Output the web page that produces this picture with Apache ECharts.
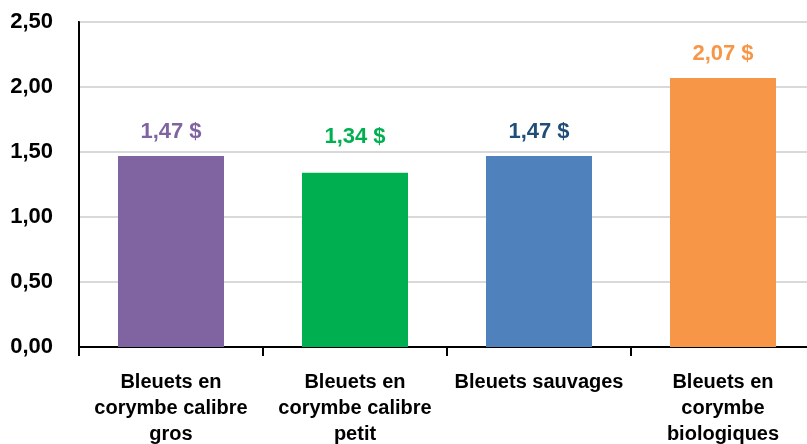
<!DOCTYPE html>
<html>
<head>
<meta charset="utf-8">
<script src="https://cdn.jsdelivr.net/npm/echarts@6/dist/echarts.min.js"></script>
<style>
  html, body { margin: 0; padding: 0; background: #fff; }
  #chart { width: 807px; height: 444px; }
</style>
</head>
<body>
<div id="chart"></div>
<script>
// prix moyen par type de bleuets
const categories = [
  'Bleuets en\ncorymbe calibre\ngros',
  'Bleuets en\ncorymbe calibre\npetit',
  'Bleuets sauvages',
  'Bleuets en\ncorymbe\nbiologiques'
];
const values = [1.47, 1.34, 1.47, 2.07];
const yTicks = [0, 0.5, 1, 1.5, 2, 2.5];

// couleurs barre / étiquette, décalage étiquette
const barStyles = [
  { bar: '#8064A2', label: '#8064A2', dist: 13 },
  { bar: '#00B050', label: '#00B050', dist: 25 },
  { bar: '#4F81BD', label: '#1F4E79', dist: 13 },
  { bar: '#F79646', label: '#F79646', dist: 13 }
];

const FONT = '"Liberation Sans", Arial, sans-serif';
const fmt = v => v.toFixed(2).replace('.', ',');

const chart = echarts.init(document.getElementById('chart'));
chart.setOption({
  backgroundColor: '#fff',
  animation: false,
  grid: {
    left: 79, width: 736, top: 22, height: 325,
    outerBoundsMode: 'none', containLabel: false,
    show: true, borderColor: '#000', borderWidth: 2
  },
  xAxis: {
    type: 'category',
    data: categories,
    axisLine: { lineStyle: { color: '#000', width: 2 } },
    axisTick: { show: true, length: 9, lineStyle: { color: '#000', width: 2 } },
    axisLabel: {
      interval: 0, margin: 22,
      fontFamily: FONT, fontWeight: 'bold', fontSize: 20, lineHeight: 26,
      color: '#000'
    }
  },
  yAxis: {
    type: 'value',
    min: yTicks[0], max: yTicks[yTicks.length - 1], interval: 0.5,
    axisLine: { show: true, lineStyle: { color: '#000', width: 2 } },
    axisTick: { show: false },
    splitLine: { lineStyle: { color: '#D9D9D9', width: 2 } },
    axisLabel: {
      margin: 26,
      fontFamily: FONT, fontWeight: 'bold', fontSize: 22, color: '#000',
      formatter: v => fmt(v)
    }
  },
  series: [{
    type: 'bar',
    barWidth: 106,
    data: values.map((v, i) => ({
      value: v,
      itemStyle: { color: barStyles[i].bar },
      label: { color: barStyles[i].label, distance: barStyles[i].dist }
    })),
    label: {
      show: true, position: 'top',
      fontFamily: FONT, fontWeight: 'bold', fontSize: 22,
      formatter: p => fmt(p.value) + ' $'
    }
  }]
});
</script>
</body>
</html>
